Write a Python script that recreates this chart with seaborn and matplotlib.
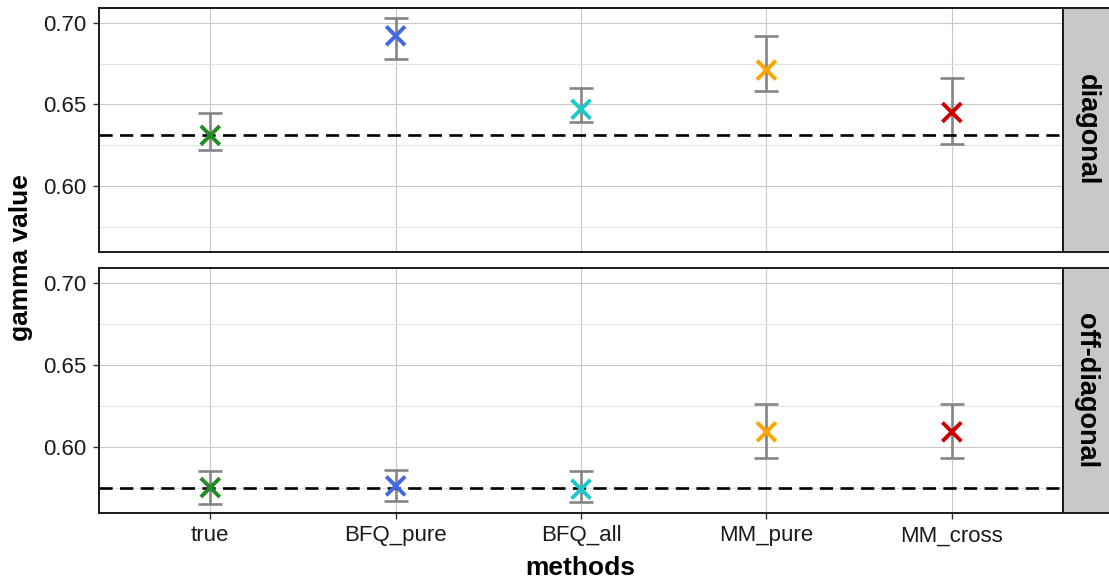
import numpy as np
import pandas as pd
import seaborn as sns
import matplotlib.pyplot as plt
from matplotlib.ticker import MultipleLocator

methods = ["true", "BFQ_pure", "BFQ_all", "MM_pure", "MM_cross"]
colors = ["#228B22", "#4169E1", "#1FC8C8", "#FFA500", "#CC0000"]
panels = ["diagonal", "off-diagonal"]

# estimates, lower and upper bounds
diag_mean = [0.631, 0.692, 0.647, 0.671, 0.645]
diag_low = [0.622, 0.678, 0.639, 0.658, 0.626]
diag_high = [0.645, 0.703, 0.660, 0.692, 0.666]
diag_ref = 0.631

off_mean = [0.575, 0.576, 0.574, 0.609, 0.609]
off_low = [0.565, 0.567, 0.566, 0.593, 0.593]
off_high = [0.585, 0.586, 0.585, 0.626, 0.626]
off_ref = 0.575

df = pd.DataFrame({
    "panel": np.repeat(panels, len(methods)),
    "method": methods * 2,
    "gamma": diag_mean + off_mean,
    "low": diag_low + off_low,
    "high": diag_high + off_high,
})
refs = {"diagonal": diag_ref, "off-diagonal": off_ref}

sns.set_theme(style="white")
plt.rcParams["font.family"] = ["Liberation Sans", "DejaVu Sans"]

fig = plt.figure(figsize=(11.09, 5.78), dpi=100)
ax_pos = [
    [0.0893, 0.564, 0.8693, 0.422],
    [0.0893, 0.1125, 0.8693, 0.424],
]
palette = dict(zip(methods, colors))

for i, panel in enumerate(panels):
    ax = fig.add_axes(ax_pos[i])
    sub = df[df["panel"] == panel]
    ax.errorbar(sub["method"], sub["gamma"],
                yerr=[sub["gamma"] - sub["low"], sub["high"] - sub["gamma"]],
                fmt="none", ecolor="#858585", elinewidth=1.9, capsize=8.5,
                capthick=1.9, zorder=2)
    ax.axhline(refs[panel], color="black", lw=1.9, ls=(0, (5, 2.8)), zorder=3)
    sns.scatterplot(data=sub, x="method", y="gamma", hue="method",
                    palette=palette, marker="x", s=185, linewidth=2.8,
                    legend=False, ax=ax, zorder=4)
    ax.set_xlim(-0.6, 4.6)
    ax.set_ylim(0.5595, 0.709)
    ax.yaxis.set_major_locator(MultipleLocator(0.05))
    ax.yaxis.set_minor_locator(MultipleLocator(0.025))
    ax.yaxis.set_major_formatter(plt.FormatStrFormatter("%.2f"))
    ax.grid(True, which="major", color="#C8C8C8", lw=0.8)
    ax.grid(True, which="minor", axis="y", color="#E3E3E3", lw=0.8)
    ax.set_axisbelow(True)
    for sp in ax.spines.values():
        sp.set_color("#1A1A1A")
        sp.set_linewidth(1.4)
    ax.tick_params(axis="both", which="major", length=4, width=1,
                   color="#333333", labelsize=16, labelcolor="#1A1A1A",
                   left=True, bottom=True, pad=5)
    ax.tick_params(axis="y", which="minor", length=0)
    ax.set_xlabel("")
    ax.set_ylabel("")
    if i == 0:
        ax.tick_params(axis="x", labelbottom=False, bottom=False)

    # facet strip on the right
    strip = fig.add_axes([0.9585, ax_pos[i][1], 0.045, ax_pos[i][3]])
    strip.set_facecolor("#C8C8C8")
    strip.set_xticks([])
    strip.set_yticks([])
    for sp in strip.spines.values():
        sp.set_color("#1A1A1A")
        sp.set_linewidth(1.4)
    strip.text(0.47, 0.5, panel, rotation=-90, ha="center", va="center",
               fontsize=19.5, fontweight="bold", color="black",
               transform=strip.transAxes)

fig.text(0.019, 0.554, "gamma value", rotation=90, ha="center", va="center",
         fontsize=19, fontweight="bold", color="black")
fig.text(0.523, 0.017, "methods", ha="center", va="center",
         fontsize=19, fontweight="bold", color="black")

fig.savefig("out.png", dpi=100)
